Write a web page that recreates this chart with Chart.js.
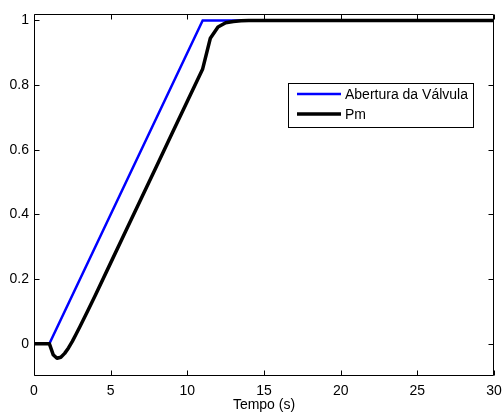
<!DOCTYPE html>
<html>
<head>
<meta charset="utf-8">
<script src="https://cdn.jsdelivr.net/npm/chart.js@4"></script>
<style>
  html, body { margin: 0; padding: 0; background: #ffffff; }
  #wrap { width: 503px; height: 412px; }
</style>
</head>
<body>
<div id="wrap"><canvas id="c" width="503" height="412"></canvas></div>
<script>
// Series names
const seriesNames = ['Abertura da Válvula', 'Pm'];

// Gate opening (Abertura da Válvula): time (s) and per-unit value
const gateTime  = [0, 1, 11, 30];
const gateValue = [0, 0, 1, 1];

// Mechanical power Pm: time (s) and per-unit value
const pmTime  = [0, 0.5, 1, 1.25, 1.5, 1.75, 2, 2.25, 2.5, 2.75, 3, 3.5, 4, 5, 6, 7, 8, 9, 10, 11, 11.5, 12, 12.5, 13, 13.5, 14, 30];
const pmValue = [0, 0, 0, -0.034, -0.045, -0.042, -0.030, -0.013, 0.007, 0.030, 0.053, 0.101, 0.150, 0.25, 0.35, 0.45, 0.55, 0.65, 0.75, 0.85, 0.945, 0.980, 0.993, 0.997, 0.999, 1.0, 1.0];

// Axis ticks and labels
const xTicks = [0, 5, 10, 15, 20, 25, 30];
const yTicks = [0, 0.2, 0.4, 0.6, 0.8, 1];
const xTitle = 'Tempo (s)';

const FONT = '"Liberation Sans", Arial, Helvetica, sans-serif';
const FONT_SIZE = 14;

function toPoints(xs, ys) {
  return xs.map((x, i) => ({ x: x, y: ys[i] }));
}

// Frame, inward ticks on all four sides, legend box and x-axis title
const framePlugin = {
  id: 'frame',
  afterDatasetsDraw(chart) {
    const ctx = chart.ctx;
    const a = chart.chartArea;
    const xs = chart.scales.x;
    const ys = chart.scales.y;
    const L = Math.round(a.left) + 0.5;
    const R = Math.round(a.right) - 0.5;
    const T = Math.round(a.top) + 0.5;
    const B = Math.round(a.bottom) - 0.5;
    const tickLen = 5;

    ctx.save();
    ctx.strokeStyle = '#000';
    ctx.lineWidth = 1;
    ctx.beginPath();
    ctx.rect(L, T, R - L, B - T);
    xTicks.forEach(v => {
      const px = Math.round(xs.getPixelForValue(v)) + 0.5;
      ctx.moveTo(px, B); ctx.lineTo(px, B - tickLen);
      ctx.moveTo(px, T); ctx.lineTo(px, T + tickLen);
    });
    yTicks.forEach(v => {
      const py = Math.round(ys.getPixelForValue(v)) + 0.5;
      ctx.moveTo(L, py); ctx.lineTo(L + tickLen, py);
      ctx.moveTo(R, py); ctx.lineTo(R - tickLen, py);
    });
    ctx.stroke();

    // Legend
    const lx = 288.5, ly = 83.5, lw = 185, lh = 44;
    ctx.fillStyle = '#fff';
    ctx.fillRect(lx, ly, lw, lh);
    ctx.strokeRect(lx, ly, lw, lh);
    ctx.font = FONT_SIZE + 'px ' + FONT;
    ctx.textAlign = 'left';
    ctx.textBaseline = 'middle';
    chart.data.datasets.forEach((ds, i) => {
      const rowY = 94 + i * 20;
      ctx.strokeStyle = ds.borderColor;
      ctx.lineWidth = ds.borderWidth;
      ctx.beginPath();
      ctx.moveTo(297, rowY);
      ctx.lineTo(341, rowY);
      ctx.stroke();
      ctx.fillStyle = '#000';
      ctx.fillText(ds.label, 345, rowY + 1);
    });

    // X-axis title
    ctx.textAlign = 'center';
    ctx.textBaseline = 'alphabetic';
    ctx.fillStyle = '#000';
    ctx.fillText(xTitle, (a.left + a.right) / 2, 409);
    ctx.restore();
  }
};

new Chart(document.getElementById('c'), {
  type: 'line',
  data: {
    datasets: [
      {
        label: seriesNames[0],
        data: toPoints(gateTime, gateValue),
        borderColor: '#0000ff',
        borderWidth: 2.5,
        pointRadius: 0,
        tension: 0,
        fill: false,
        order: 1
      },
      {
        label: seriesNames[1],
        data: toPoints(pmTime, pmValue),
        borderColor: '#000000',
        borderWidth: 3.5,
        borderJoinStyle: 'round',
        pointRadius: 0,
        tension: 0,
        fill: false,
        order: 0
      }
    ]
  },
  options: {
    responsive: false,
    animation: false,
    devicePixelRatio: 1,
    layout: { padding: { top: 14, right: 9, left: 0, bottom: 0 } },
    plugins: {
      legend: { display: false },
      tooltip: { enabled: false },
      title: { display: false }
    },
    scales: {
      x: {
        type: 'linear',
        min: 0,
        max: 30,
        afterBuildTicks: s => { s.ticks = xTicks.map(v => ({ value: v })); },
        afterFit: s => { s.height = 36; s.paddingLeft = 0; s.paddingRight = 0; },
        grid: { display: false, tickLength: 0 },
        border: { display: false },
        ticks: {
          color: '#000',
          font: { family: FONT, size: FONT_SIZE },
          padding: 7,
          maxRotation: 0,
          autoSkip: false
        }
      },
      y: {
        type: 'linear',
        min: -0.1,
        max: 1.02,
        afterBuildTicks: s => { s.ticks = yTicks.map(v => ({ value: v })); },
        afterFit: s => { s.width = 34; s.paddingTop = 0; s.paddingBottom = 0; },
        grid: { display: false, tickLength: 0 },
        border: { display: false },
        ticks: {
          color: '#000',
          font: { family: FONT, size: FONT_SIZE },
          padding: 5,
          callback: v => String(v)
        }
      }
    }
  },
  plugins: [framePlugin]
});
</script>
</body>
</html>
